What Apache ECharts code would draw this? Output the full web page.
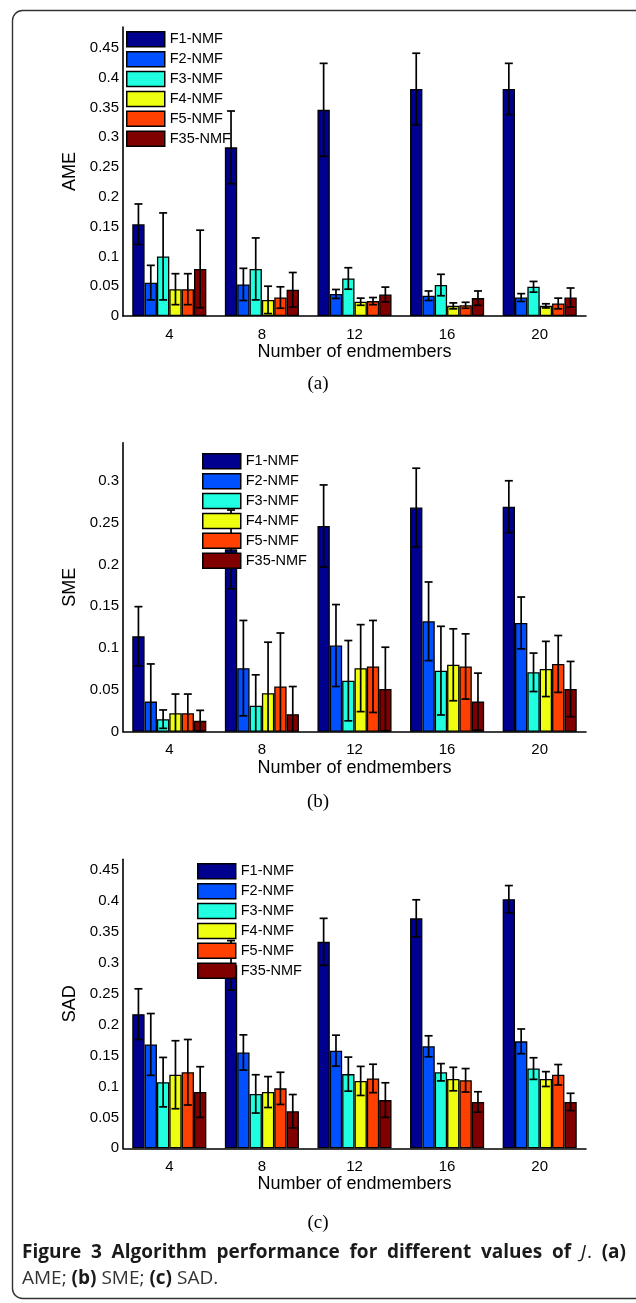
<!DOCTYPE html>
<html>
<head>
<meta charset="utf-8">
<script src="https://cdn.jsdelivr.net/npm/echarts@6/dist/echarts.min.js"></script>
<style>
html,body{margin:0;padding:0;background:#fff;}
#chart{width:636px;height:1303px;}
</style>
</head>
<body>
<div id="chart"></div>
<script>
// ---------- data ----------
const categories = ['4', '8', '12', '16', '20'];
const seriesNames = ['F1-NMF', 'F2-NMF', 'F3-NMF', 'F4-NMF', 'F5-NMF', 'F35-NMF'];

// AME (panel a)
const ameF1  = [0.154, 0.283, 0.346, 0.381, 0.381];
const ameF2  = [0.056, 0.053, 0.037, 0.034, 0.031];
const ameF3  = [0.100, 0.079, 0.063, 0.052, 0.049];
const ameF4  = [0.045, 0.027, 0.024, 0.017, 0.017];
const ameF5  = [0.045, 0.031, 0.025, 0.018, 0.021];
const ameF35 = [0.079, 0.044, 0.036, 0.030, 0.031];
const ameErrF1  = [0.034, 0.061, 0.078, 0.060, 0.043];
const ameErrF2  = [0.029, 0.027, 0.0075, 0.008, 0.0065];
const ameErrF3  = [0.073, 0.052, 0.018, 0.018, 0.009];
const ameErrF4  = [0.026, 0.023, 0.006, 0.005, 0.0035];
const ameErrF5  = [0.026, 0.018, 0.006, 0.005, 0.009];
const ameErrF35 = [0.065, 0.029, 0.0125, 0.012, 0.016];

// SME (panel b)
const smeF1  = [0.114, 0.218, 0.246, 0.268, 0.269];
const smeF2  = [0.036, 0.076, 0.103, 0.132, 0.130];
const smeF3  = [0.015, 0.031, 0.061, 0.073, 0.071];
const smeF4  = [0.022, 0.046, 0.076, 0.080, 0.075];
const smeF5  = [0.022, 0.054, 0.078, 0.078, 0.081];
const smeF35 = [0.013, 0.021, 0.051, 0.036, 0.051];
const smeErrF1  = [0.0355, 0.047, 0.049, 0.047, 0.031];
const smeErrF2  = [0.045, 0.057, 0.049, 0.047, 0.031];
const smeErrF3  = [0.011, 0.037, 0.048, 0.053, 0.023];
const smeErrF4  = [0.023, 0.061, 0.052, 0.043, 0.033];
const smeErrF5  = [0.023, 0.064, 0.055, 0.039, 0.034];
const smeErrF35 = [0.0125, 0.033, 0.050, 0.034, 0.033];

// SAD (panel c)
const sadF1  = [0.217, 0.296, 0.334, 0.372, 0.403];
const sadF2  = [0.168, 0.155, 0.158, 0.165, 0.173];
const sadF3  = [0.107, 0.088, 0.120, 0.123, 0.129];
const sadF4  = [0.119, 0.091, 0.109, 0.112, 0.112];
const sadF5  = [0.123, 0.097, 0.113, 0.110, 0.119];
const sadF35 = [0.091, 0.060, 0.078, 0.075, 0.075];
const sadErrF1  = [0.041, 0.040, 0.038, 0.030, 0.022];
const sadErrF2  = [0.050, 0.0285, 0.025, 0.017, 0.020];
const sadErrF3  = [0.040, 0.031, 0.0275, 0.014, 0.0175];
const sadErrF4  = [0.055, 0.025, 0.0235, 0.019, 0.012];
const sadErrF5  = [0.053, 0.026, 0.023, 0.019, 0.0165];
const sadErrF35 = [0.041, 0.027, 0.028, 0.0165, 0.014];

const yTickInterval = 0.05;
const axisMaxA = 0.485, axisMaxB = 0.3455, axisMaxC = 0.4675;
const yNames = ['AME', 'SME', 'SAD'];
const xName = 'Number of endmembers';
const panelLabels = ['(a)', '(b)', '(c)'];
const captionLine1Words = ['Figure', '3', 'Algorithm', 'performance', 'for', 'different', 'values', 'of'];
const captionLine2 = [['AME; ', 'r'], ['(b)', 'b'], [' SME; ', 'r'], ['(c)', 'b'], [' SAD.', 'r']];

// ---------- style ----------
const colors = ['#00008f', '#0050ff', '#20ffdf', '#efff10', '#ff4000', '#800000'];
const panels = [
  { vals: [ameF1, ameF2, ameF3, ameF4, ameF5, ameF35], errs: [ameErrF1, ameErrF2, ameErrF3, ameErrF4, ameErrF5, ameErrF35],
    max: axisMaxA, top: 27, legendLeft: 126, legendTop: 31, labelY: 385 },
  { vals: [smeF1, smeF2, smeF3, smeF4, smeF5, smeF35], errs: [smeErrF1, smeErrF2, smeErrF3, smeErrF4, smeErrF5, smeErrF35],
    max: axisMaxB, top: 442.7, legendLeft: 202, legendTop: 453, labelY: 803 },
  { vals: [sadF1, sadF2, sadF3, sadF4, sadF5, sadF35], errs: [sadErrF1, sadErrF2, sadErrF3, sadErrF4, sadErrF5, sadErrF35],
    max: axisMaxC, top: 859.3, legendLeft: 197, legendTop: 863, labelY: 1224 }
];
const gridH = 289, gridLeft = 123, gridW = 463;
const FONT = '"Liberation Sans", Arial, sans-serif';

function renderErr(params, api) {
  const cat = api.value(0), v = api.value(1), e = api.value(2), k = api.value(3);
  const band = api.size([1, 0])[0];
  const bw = band * 0.8 / 6;
  const base = api.coord([cat, v]);
  const x = base[0] + (k - 2.5) * bw;
  const yTop = api.coord([cat, v + e])[1];
  const lo = v - e;
  const yLo = api.coord([cat, Math.max(0, lo)])[1];
  const cap = 4;
  const st = { stroke: '#000', lineWidth: 1.7 };
  const children = [
    { type: 'line', shape: { x1: x, y1: yTop, x2: x, y2: yLo }, style: st },
    { type: 'line', shape: { x1: x - cap, y1: yTop, x2: x + cap, y2: yTop }, style: st }
  ];
  if (lo >= 0) children.push({ type: 'line', shape: { x1: x - cap, y1: yLo, x2: x + cap, y2: yLo }, style: st });
  return { type: 'group', children };
}

const grid = [], xAxis = [], yAxis = [], series = [], legend = [], graphic = [];
panels.forEach((p, gi) => {
  grid.push({ left: gridLeft, top: p.top, width: gridW, height: gridH, containLabel: false });
  xAxis.push({
    type: 'category', gridIndex: gi, data: categories,
    axisLine: { lineStyle: { color: '#000', width: 1.6 } },
    axisTick: { show: false },
    axisLabel: { color: '#000', fontSize: 15, fontFamily: FONT, margin: 11 },
    name: xName, nameLocation: 'middle', nameGap: 21,
    nameTextStyle: { color: '#000', fontSize: 18, fontFamily: FONT }
  });
  yAxis.push({
    type: 'value', gridIndex: gi, min: 0, max: p.max, interval: yTickInterval,
    axisLine: { show: true, lineStyle: { color: '#000', width: 1.6 } },
    axisTick: { show: false },
    splitLine: { show: false },
    axisLabel: { color: '#000', fontSize: 15, fontFamily: FONT, margin: 4, showMaxLabel: false },
    name: yNames[gi], nameLocation: 'middle', nameGap: 36,
    nameTextStyle: { color: '#000', fontSize: 18, fontFamily: FONT }
  });
  const errData = [];
  seriesNames.forEach((n, k) => {
    series.push({
      type: 'bar', name: n, xAxisIndex: gi, yAxisIndex: gi,
      data: p.vals[k], barGap: '0%', barCategoryGap: '20%',
      itemStyle: { color: colors[k], borderColor: '#000', borderWidth: 1.3 },
      emphasis: { disabled: true }, animation: false, z: 2
    });
    p.vals[k].forEach((v, ci) => errData.push([ci, v, p.errs[k][ci], k]));
  });
  series.push({
    type: 'custom', name: 'err' + gi, xAxisIndex: gi, yAxisIndex: gi,
    data: errData, encode: { x: 0, y: 1 }, renderItem: renderErr, z: 3, animation: false, silent: true
  });
  legend.push({
    data: seriesNames, orient: 'vertical', left: p.legendLeft, top: p.legendTop, padding: 0,
    itemWidth: 38, itemHeight: 15, itemGap: 3.4, icon: 'rect',
    itemStyle: { borderColor: '#000', borderWidth: 1.5 },
    textStyle: { color: '#000', fontSize: 14.5, fontFamily: FONT, lineHeight: 15 },
    selectedMode: false, z: 10
  });
  graphic.push({
    type: 'text', left: 'center', top: p.labelY - 10,
    style: { text: panelLabels[gi], fontSize: 19, fontFamily: '"Liberation Serif", "Times New Roman", serif', fill: '#000' }
  });
});

// frame
graphic.push({
  type: 'rect', shape: { x: 12.5, y: 10.5, width: 720, height: 1288, r: 10 },
  style: { fill: 'none', stroke: '#333', lineWidth: 1.4 }, z: -1
});

// caption (justified first line)
const CAPFONT = '"Open Sans", "Noto Sans", sans-serif';
const CAPSIZE = 19;
const capLeft = 22, capRight = 625;
const mctx = document.createElement('canvas').getContext('2d');
function measure(text, weight, style) {
  mctx.font = (style || 'normal') + ' ' + (weight || 'normal') + ' ' + CAPSIZE + 'px ' + CAPFONT;
  return mctx.measureText(text).width;
}
const tokens = captionLine1Words.map(w => ({ t: w, w: 'bold', s: 'normal' }));
tokens.push({ t: 'J', w: 'normal', s: 'italic', joinNext: true });
tokens.push({ t: '.', w: 'normal', s: 'normal' });
tokens.push({ t: '(a)', w: 'bold', s: 'normal' });
tokens.forEach(tk => tk.width = measure(tk.t, tk.w, tk.s));
const totalW = tokens.reduce((a, tk) => a + tk.width, 0);
const nGaps = tokens.length - 1 - tokens.filter(tk => tk.joinNext).length;
const gap = (capRight - capLeft - totalW) / nGaps;
let cx = capLeft;
tokens.forEach(tk => {
  graphic.push({
    type: 'text', x: cx, y: 1243,
    style: { text: tk.t, fontFamily: CAPFONT, fontWeight: tk.w, fontStyle: tk.s, fontSize: CAPSIZE, fill: '#1a1a1a' }
  });
  cx += tk.width + (tk.joinNext ? 1 : gap);
});
let cx2 = capLeft;
captionLine2.forEach(([t, kind]) => {
  const w = kind === 'b' ? 'bold' : 'normal';
  graphic.push({
    type: 'text', x: cx2, y: 1269,
    style: { text: t, fontFamily: CAPFONT, fontWeight: w, fontSize: CAPSIZE, fill: kind === 'b' ? '#1a1a1a' : '#333' }
  });
  cx2 += measure(t, w);
});

const chart = echarts.init(document.getElementById('chart'), null, { renderer: 'canvas', width: 636, height: 1303 });
chart.setOption({ animation: false, backgroundColor: '#fff', grid, xAxis, yAxis, series, legend, graphic });
</script>
</body>
</html>
